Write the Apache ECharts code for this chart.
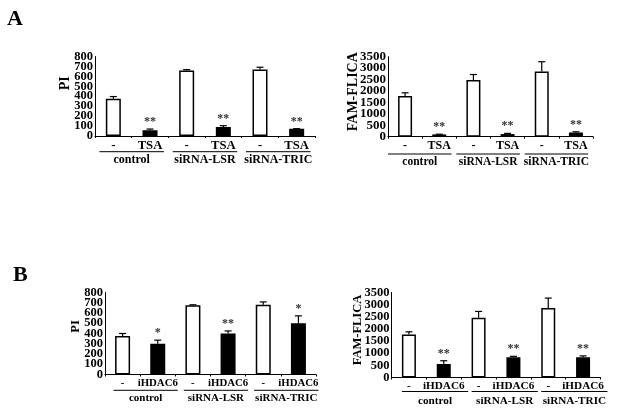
<!DOCTYPE html>
<html>
<head>
<meta charset="utf-8">
<script src="https://cdn.jsdelivr.net/npm/echarts@6/dist/echarts.min.js"></script>
<style>html,body{margin:0;padding:0;background:#fff}#c{width:625px;height:415px}</style>
</head>
<body>
<div id="c"></div>
<script>
// ---- data ----
const groupNames = ['control', 'siRNA-LSR', 'siRNA-TRIC'];
const aTicks = ['-', 'TSA', '-', 'TSA', '-', 'TSA'];
const bTicks = ['-', 'iHDAC6', '-', 'iHDAC6', '-', 'iHDAC6'];

const aPI = [375, 58, 660, 90, 670, 72];
const aPIerr = [22, 12, 8, 14, 22, 2];
const aPIsig = ['', '**', '', '**', '', '**'];

const aFAM = [1780, 100, 2480, 115, 2850, 185];
const aFAMerr = [140, 10, 240, 30, 430, 30];
const aFAMsig = ['', '**', '', '**', '', '**'];

const bPI = [375, 300, 675, 400, 680, 500];
const bPIerr = [25, 35, 5, 25, 28, 72];
const bPIsig = ['', '*', '', '**', '', '*'];

const bFAM = [1770, 560, 2460, 830, 2860, 830];
const bFAMerr = [110, 130, 260, 40, 410, 60];
const bFAMsig = ['', '**', '', '**', '', '**'];

const piTicksMax = 800, piInterval = 100;
const famTicksMax = 3500, famInterval = 500;

// ---- layout ----
const FONT = "'Liberation Serif','Times New Roman',serif";
const panels = [
  {grid:{left:95, top:56.5, width:220, height:79.5}, ticks:aTicks, vals:aPI, err:aPIerr, sig:aPIsig, max:piTicksMax, interval:piInterval,
   name:'PI', nameSize:14, nameGap:23, namePad:26, tickSize:12.7, groupSize:12, barWidth:15, lineL:0.38, lineR:0.38, lineOff:15.7, textOff:24, yLabelSize:12.5},
  {grid:{left:388, top:56.7, width:205, height:80}, ticks:aTicks, vals:aFAM, err:aFAMerr, sig:aFAMsig, max:famTicksMax, interval:famInterval,
   name:'FAM-FLICA', nameSize:14, nameGap:28, namePad:10, tickSize:12, groupSize:11.5, barWidth:14, lineL:0.5, lineR:0.36, lineOff:17.3, textOff:25.5, yLabelSize:13},
  {grid:{left:105, top:292.5, width:211, height:82}, ticks:bTicks, vals:bPI, err:bPIerr, sig:bPIsig, max:piTicksMax, interval:piInterval,
   name:'PI', nameSize:12.5, nameGap:23, namePad:14, tickSize:10.8, groupSize:11, barWidth:15, lineL:0.26, lineR:0.57, lineOff:15.8, textOff:24, yLabelSize:12.5},
  {grid:{left:391.5, top:292.5, width:209, height:85}, ticks:bTicks, vals:bFAM, err:bFAMerr, sig:bFAMsig, max:famTicksMax, interval:famInterval,
   name:'FAM-FLICA', nameSize:12.5, nameGap:27, namePad:10, tickSize:11.2, groupSize:11.2, barWidth:14, lineL:0.2, lineR:0.7, lineOff:14, textOff:24, yLabelSize:12.5}
];

const grids = [], xAxes = [], yAxes = [], yAxes2 = [], series = [];
panels.forEach((p, k) => {
  grids.push(Object.assign({containLabel:false}, p.grid));
  xAxes.push({
    type:'category', gridIndex:k, data:p.ticks,
    axisLine:{lineStyle:{color:'#000', width:1}},
    axisTick:{show:true, length:2, lineStyle:{color:'#000'}},
    axisLabel:{interval:0, margin:3, color:'#000', fontFamily:FONT, fontWeight:'bold', fontSize:p.tickSize},
    splitLine:{show:false}
  });
  const labelBase = {margin:2, color:'#000', fontFamily:FONT, fontWeight:'bold', fontSize:p.yLabelSize, hideOverlap:false};
  // main axis: even-step labels (0, 2*interval, ...)
  yAxes.push({
    type:'value', gridIndex:k, min:0, max:p.max, interval:p.interval,
    name:p.name, nameLocation:'middle', nameGap:p.nameGap, nameMoveOverlap:false,
    nameTextStyle:{color:'#000', fontFamily:FONT, fontWeight:'bold', fontSize:p.nameSize, padding:[0,0,0,p.namePad]},
    axisLine:{show:true, lineStyle:{color:'#000', width:1}},
    axisTick:{show:false},
    axisLabel:Object.assign({}, labelBase, {formatter:(v)=> (Math.round(v / p.interval) % 2 === 0 ? String(v) : '')}),
    splitLine:{show:false}
  });
  // companion axis on the same grid: odd-step labels
  yAxes2.push({
    type:'value', gridIndex:k, position:'left', min:0, max:p.max, interval:p.interval,
    axisLine:{show:false}, axisTick:{show:false}, splitLine:{show:false},
    axisLabel:Object.assign({}, labelBase, {formatter:(v)=> (Math.round(v / p.interval) % 2 === 1 ? String(v) : '')})
  });
  series.push({
    type:'bar', xAxisIndex:k, yAxisIndex:k, data:p.vals, barWidth:p.barWidth,
    itemStyle:{
      color:(params)=> params.dataIndex % 2 === 0 ? '#fff' : '#000',
      borderColor:'#000', borderWidth:1.5
    },
    silent:true, animation:false
  });
  const sig = p.sig;
  series.push({
    type:'custom', xAxisIndex:k, yAxisIndex:k, clip:false, animation:false, silent:true,
    data:p.vals.map((v,i)=>[i, v, p.err[i]]),
    encode:{x:0, y:1},
    z:5,
    renderItem:(params, api)=>{
      const i = api.value(0), v = api.value(1), e = api.value(2);
      const top = api.coord([i, v]);
      const et = api.coord([i, v + e]);
      const x = top[0];
      const children = [
        {type:'line', shape:{x1:x, y1:top[1], x2:x, y2:et[1]}, style:{stroke:'#000', lineWidth:1.2}},
        {type:'line', shape:{x1:x-3.5, y1:et[1], x2:x+3.5, y2:et[1]}, style:{stroke:'#000', lineWidth:1.2}}
      ];
      if (sig[params.dataIndex]) {
        children.push({type:'text', style:{text:sig[params.dataIndex], x:x, y:et[1]-1, align:'center', verticalAlign:'bottom',
          fill:'#333', font:'bold 12px ' + FONT}});
      }
      return {type:'group', children:children};
    }
  });
  series.push({
    type:'custom', xAxisIndex:k, yAxisIndex:k, clip:false, animation:false, silent:true,
    data:groupNames.map((n,g)=>[2*g, 0]),
    encode:{x:0, y:1},
    renderItem:(params, api)=>{
      const idx = api.value(0);
      const p0 = api.coord([idx, 0]);
      const p1 = api.coord([idx + 1, 0]);
      const band = api.size([1, 0])[0];
      const x1 = p0[0] - p.lineL * band, x2 = p1[0] + p.lineR * band;
      const y = p0[1] + p.lineOff;
      return {type:'group', children:[
        {type:'line', shape:{x1:x1, y1:y, x2:x2, y2:y}, style:{stroke:'#000', lineWidth:1}},
        {type:'text', style:{text:groupNames[params.dataIndex], x:(x1+x2)/2, y:p0[1] + p.textOff, align:'center', verticalAlign:'middle',
          fill:'#000', font:'bold ' + p.groupSize + 'px ' + FONT}}
      ]};
    }
  });
});

const chart = echarts.init(document.getElementById('c'), null, {renderer:'canvas'});
chart.setOption({
  backgroundColor:'#fff',
  animation:false,
  grid:grids, xAxis:xAxes, yAxis:yAxes.concat(yAxes2), series:series,
  graphic:[
    {type:'text', left:7, top:8, style:{text:'A', font:'bold 22px ' + FONT, fill:'#000'}},
    {type:'text', left:13, top:264, style:{text:'B', font:'bold 22px ' + FONT, fill:'#000'}}
  ]
});
</script>
</body>
</html>
